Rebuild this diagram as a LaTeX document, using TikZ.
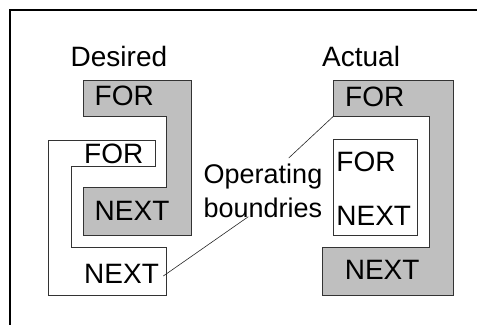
\documentclass[tikz,border=0pt]{standalone}
\usepackage{fontspec}
\setmainfont{Liberation Sans}
\begin{document}
\begin{tikzpicture}[x=1bp,y=-1bp,
  lbl/.style={anchor=base west,inner sep=0pt,font=\fontsize{28bp}{32bp}\selectfont},
  opl/.style={anchor=base west,inner sep=0pt,font=\fontsize{27bp}{31bp}\selectfont},
  grayshape/.style={draw=black!80,line width=0.8bp,fill=black!25},
  whiteshape/.style={draw=black!80,line width=0.8bp,fill=white},
  leader/.style={draw=black!85,line width=0.6bp}]
\useasboundingbox (0,0) rectangle (477,324);
\draw[line width=2bp] (10,330) -- (10,10) -- (480,10);
% Desired
\draw[grayshape] (83.3,80) -- (191,80) -- (191,235) -- (83.3,235) -- (83.3,187.7) -- (166.7,187.7) -- (166.7,116) -- (83.3,116) -- cycle;
\draw[whiteshape] (48.3,140) -- (155.7,140) -- (155.7,166) -- (71.7,166) -- (71.7,247.3) -- (166.7,247.3) -- (166.7,295) -- (48.3,295) -- cycle;
% Actual
\draw[grayshape] (333.7,80) -- (453,80) -- (453,295) -- (322,295) -- (322,247) -- (429.5,247) -- (429.5,116) -- (333.7,116) -- cycle;
\draw[whiteshape] (333.7,139.3) rectangle (417.5,235);
% labels
\node[lbl] (desired) at (70.5,66.7) {Desired};
\node[lbl] (dfor) at (94.5,105.5) {FOR};
\node[lbl] (dfor2) at (84,163.5) {FOR};
\node[lbl] (dnext) at (94.5,220) {NEXT};
\node[lbl] (dnext2) at (84,283) {NEXT};
\node[lbl] (actual) at (322,66.7) {Actual};
\node[lbl] (afor) at (345,106) {FOR};
\node[lbl] (afor2) at (336.2,171.5) {FOR};
\node[lbl] (anext2) at (336.2,225) {NEXT};
\node[lbl] (anext) at (344.6,279.3) {NEXT};
\node[opl] (op) at (203.5,183) {Operating};
\node[opl] (bo) at (203.3,217) {boundries};
\coordinate (c1) at (288.7,158);
\coordinate (c2) at (333.7,116);
\coordinate (c3) at (248.3,216.7);
\coordinate (c4) at (163.3,276);
\draw[leader] (c1) -- (c2);
\draw[leader] (c3) -- (c4);
\end{tikzpicture}
\end{document}
